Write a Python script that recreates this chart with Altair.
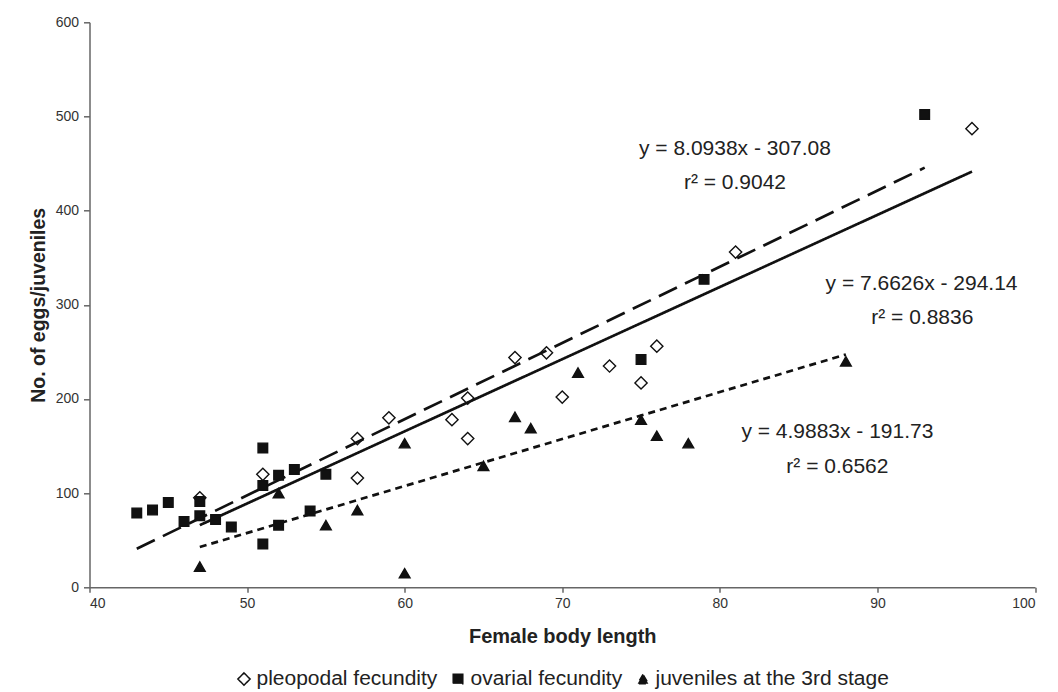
import altair as alt
import pandas as pd

# ---- data ----
names = ["pleopodal fecundity", "ovarial fecundity", "juveniles at the 3rd stage"]

pleo_x = [47, 51, 57, 57, 59, 63, 64, 64, 67, 69, 70, 73, 75, 76, 81, 96]
pleo_y = [95, 120, 116, 158, 180, 178, 201, 158, 244, 249, 202, 235, 217, 256, 356, 487]

ova_x = [43, 44, 45, 46, 47, 47, 48, 49, 51, 51, 51, 52, 52, 53, 54, 55, 75, 79, 93]
ova_y = [79, 82, 90, 70, 91, 76, 72, 64, 148, 108, 46, 119, 66, 125, 81, 120, 242, 327, 502]

juv_x = [47, 52, 55, 57, 60, 60, 65, 67, 68, 71, 75, 76, 78, 88]
juv_y = [22, 100, 66, 82, 153, 15, 129, 181, 169, 228, 178, 161, 153, 240]

# trendlines (from the printed equations) and their x ranges
trend_slope = [7.6626, 8.0938, 4.9883]
trend_icept = [-294.14, -307.08, -191.73]
trend_x0 = [47, 43, 47]
trend_x1 = [96, 93, 88]

eq_text = ["y = 8.0938x - 307.08", "r\u00b2 = 0.9042",
           "y = 7.6626x - 294.14", "r\u00b2 = 0.8836",
           "y = 4.9883x - 191.73", "r\u00b2 = 0.6562"]
eq_x = [80.96, 80.96, 92.8, 92.85, 87.46, 87.46]
eq_y = [459, 422.7, 315.8, 280, 158.4, 121.2]

x_ticks = [40, 50, 60, 70, 80, 90, 100]
y_ticks = [0, 100, 200, 300, 400, 500, 600]

# ---- tables ----
pts = pd.concat([
    pd.DataFrame({"x": pleo_x, "y": pleo_y, "series": names[0]}),
    pd.DataFrame({"x": ova_x, "y": ova_y, "series": names[1]}),
    pd.DataFrame({"x": juv_x, "y": juv_y, "series": names[2]}),
], ignore_index=True)

rows = []
for n, m, b, a0, a1 in zip(names, trend_slope, trend_icept, trend_x0, trend_x1):
    for xv in (a0, a1):
        rows.append({"x": xv, "y": m * xv + b, "series": n})
trend = pd.DataFrame(rows)

labels = pd.DataFrame({"x": eq_x, "y": eq_y, "label": eq_text})

FONT = "Liberation Sans, Arial, sans-serif"
AX = "#666666"
INK = "#111111"

x_enc = alt.X("x:Q", scale=alt.Scale(domain=[40, 100], nice=False, zero=False),
              axis=alt.Axis(values=x_ticks, title="Female body length", grid=False,
                            tickSize=5, labelPadding=4, titlePadding=16,
                            domainColor=AX, tickColor=AX, domainWidth=1.5, tickWidth=1.5,
                            labelFont=FONT, labelFontSize=14, labelColor="#333333",
                            titleFont=FONT, titleFontSize=20, titleFontWeight="bold",
                            titleColor="#222222"))
y_enc = alt.Y("y:Q", scale=alt.Scale(domain=[0, 600], nice=False),
              axis=alt.Axis(values=y_ticks, title="No. of eggs/juveniles", grid=False,
                            tickSize=6, labelPadding=5, titlePadding=7,
                            domainColor=AX, tickColor=AX, domainWidth=1.5, tickWidth=1.5,
                            labelFont=FONT, labelFontSize=14, labelColor="#333333",
                            titleFont=FONT, titleFontSize=19.5, titleFontWeight="bold",
                            titleColor="#222222"))

leg = alt.Legend(title=None, orient="none", legendX=144, legendY=646,
                 direction="horizontal", labelFont=FONT, labelFontSize=21,
                 labelColor="#222222", labelLimit=0,
                 symbolStrokeWidth=1.5, labelOffset=2, columnPadding=10, padding=0)

points = alt.Chart(pts).mark_point(strokeWidth=1.4, opacity=1).encode(
    x=x_enc, y=y_enc,
    shape=alt.Shape("series:N", scale=alt.Scale(domain=names,
                    range=["diamond", "square", "triangle-up"]), legend=leg),
    fill=alt.Fill("series:N", scale=alt.Scale(domain=names,
                  range=["transparent", INK, INK]), legend=leg),
    stroke=alt.Stroke("series:N", scale=alt.Scale(domain=names,
                      range=[INK, INK, INK]), legend=leg),
    size=alt.Size("series:N", scale=alt.Scale(type="ordinal", domain=names,
                  range=[150, 92, 115]), legend=leg),
)

lines = alt.Chart(trend).mark_line(color=INK, strokeWidth=2.7).encode(
    x=x_enc, y=y_enc,
    detail="series:N",
    strokeDash=alt.StrokeDash("series:N", scale=alt.Scale(domain=names,
                              range=[[1, 0], [20, 9], [7, 5]]), legend=None),
)

texts = alt.Chart(labels).mark_text(font=FONT, fontSize=21, color="#222222",
                                    align="center", baseline="alphabetic").encode(
    x=x_enc, y=y_enc, text="label:N")

chart = alt.layer(points, lines, texts).properties(
    width=945.5, height=565,
    autosize=alt.AutoSizeParams(type="none"),
    padding={"left": 81.5, "top": 14.3, "right": 14, "bottom": 103},
    background="white",
).configure_view(stroke=None)

chart.save("out.html", embed_options={"renderer": "svg", "actions": False})
